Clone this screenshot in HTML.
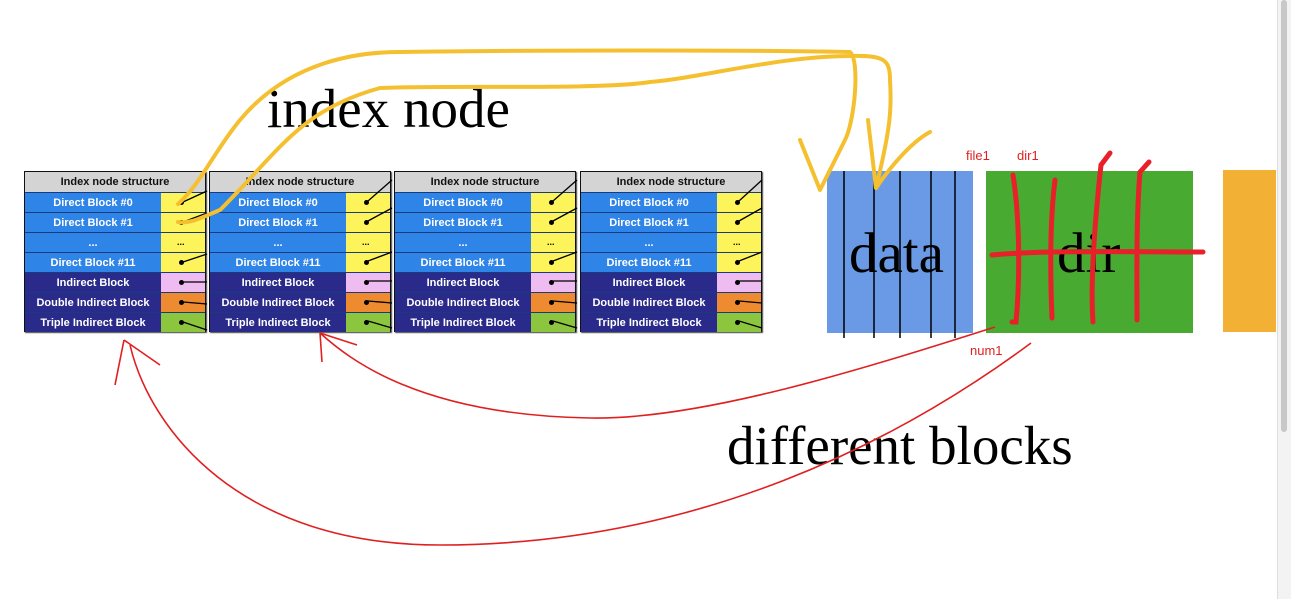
<!DOCTYPE html>
<html><head><meta charset="utf-8"><style>
body{margin:0;width:1291px;height:599px;background:#fff;position:relative;overflow:hidden;font-family:"Liberation Sans",sans-serif}
.t{position:absolute;top:171px;width:182px;height:161px;border:1px solid #111;box-sizing:border-box;box-shadow:1px 1px 1px #444}
.r{position:absolute;left:0;width:100%;height:20px;display:flex;font-weight:bold;font-size:11px;color:#fff;border-top:1px solid #1a3a80;box-sizing:border-box}
.r .a{width:136px;display:flex;align-items:center;justify-content:center}
.r .b{flex:1;position:relative}
.r .b i{position:absolute;left:18px;top:7px;width:5px;height:5px;border-radius:50%;background:#000}
.h{position:absolute;left:0;top:0;width:100%;height:20px;background:#d4d4d4;color:#111;font-weight:bold;font-size:11px;display:flex;align-items:center;justify-content:center}
.serif{position:absolute;font-family:"Liberation Serif",serif;color:#000;white-space:nowrap}
.red{position:absolute;color:#e02020;font-size:13px}
</style></head><body>
<div id="tables"></div>
<script>
var xs=[24,209,394,580],html='';
var rows=[['Direct Block #0','#2f84e8','#fcf45a',1],['Direct Block #1','#2f84e8','#fcf45a',1],['...','#2f84e8','#fcf45a',0],['Direct Block #11','#2f84e8','#fcf45a',1],['Indirect Block','#2a2a8a','#eebcf0',1],['Double Indirect Block','#2a2a8a','#ee8a30',1],['Triple Indirect Block','#2a2a8a','#8cc63e',1]];
xs.forEach(function(x){html+='<div class="t" style="left:'+x+'px"><div class="h">Index node structure</div>';
rows.forEach(function(r,i){html+='<div class="r" style="top:'+(20+i*20)+'px;background:'+r[1]+'"><div class="a">'+r[0]+'</div><div class="b" style="background:'+r[2]+'">'+(r[3]?'<i></i>':'<span style="color:#000;font-size:9px;position:absolute;left:16px;top:4px">...</span>')+'</div></div>';});
html+='</div>';});
document.getElementById('tables').innerHTML=html;
</script>
<div style="position:absolute;left:827px;top:171px;width:146px;height:162px;background:#6a9ae6"></div>
<div style="position:absolute;left:986px;top:171px;width:207px;height:162px;background:#48aa30"></div>
<div style="position:absolute;left:1223px;top:170px;width:53px;height:162px;background:#f2b035"></div>
<div style="position:absolute;left:1277px;top:0;width:14px;height:599px;background:#f3f3f3;border-left:1px solid #ddd"></div>
<div style="position:absolute;left:1281px;top:0;width:6px;height:432px;background:#c8c8c8;border-radius:3px"></div>
<div class="serif" style="left:849px;top:221px;font-size:57px">data</div>
<div class="serif" style="left:1057px;top:221px;font-size:57px">dir</div>
<div class="serif" style="left:267px;top:77px;font-size:55px">index node</div>
<div class="serif" style="left:727px;top:414px;font-size:55px">different blocks</div>
<div class="red" style="left:966px;top:148px">file1</div>
<div class="red" style="left:1017px;top:148px">dir1</div>
<div class="red" style="left:970px;top:343px">num1</div>
<svg width="1291" height="599" style="position:absolute;left:0;top:0" fill="none">
<g stroke="#000" stroke-width="1.5">
<line x1="844" y1="171" x2="844" y2="338"/><line x1="874" y1="171" x2="874" y2="338"/><line x1="900" y1="171" x2="900" y2="338"/><line x1="931" y1="171" x2="931" y2="338"/><line x1="955" y1="171" x2="955" y2="338"/>
</g>
<g stroke="#000" stroke-width="1.3">
<line x1="183" y1="202" x2="207" y2="191"/><line x1="183" y1="222" x2="207" y2="213"/><line x1="183" y1="262" x2="207" y2="254"/><line x1="183" y1="282" x2="207" y2="282"/><line x1="183" y1="302" x2="207" y2="304"/><line x1="183" y1="322" x2="207" y2="330"/>
<line x1="368" y1="201" x2="392" y2="180"/><line x1="368" y1="221" x2="392" y2="208"/><line x1="368" y1="261" x2="392" y2="252"/><line x1="368" y1="281" x2="392" y2="281"/><line x1="368" y1="301" x2="392" y2="303"/><line x1="368" y1="321" x2="392" y2="328"/>
<line x1="553" y1="201" x2="577" y2="180"/><line x1="553" y1="221" x2="577" y2="208"/><line x1="553" y1="261" x2="577" y2="252"/><line x1="553" y1="281" x2="577" y2="281"/><line x1="553" y1="301" x2="577" y2="303"/><line x1="553" y1="321" x2="577" y2="328"/>
<line x1="739" y1="201" x2="762" y2="180"/><line x1="739" y1="221" x2="762" y2="208"/><line x1="739" y1="261" x2="762" y2="252"/><line x1="739" y1="281" x2="762" y2="281"/><line x1="739" y1="301" x2="762" y2="303"/><line x1="739" y1="321" x2="762" y2="328"/>
</g>
<g stroke="#f5c030" stroke-width="4" stroke-linecap="round" stroke-linejoin="round">
<path d="M178,204 C200,185 215,150 240,120 C290,60 360,52 400,52 C550,50 750,50 850,52 C860,60 855,120 845,140 L820,190 L800,140"/>
<path d="M178,222 C190,224 200,218 220,210 C280,150 300,110 380,88 C450,85 600,90 650,82 C700,78 780,56 850,56 C885,55 890,60 890,80 C892,110 890,130 876,188 L868,120 M876,188 C895,160 915,140 930,132"/>
</g>
<g stroke="#e02020" stroke-width="1.6">
<path d="M995,327 C860,370 700,420 590,418 C420,415 350,360 320,333 M320,333 L322,362 M320,333 L357,345"/>
<path d="M1031,343 C900,440 700,545 440,545 C240,545 150,430 130,345 M124,340 L115,385 M124,340 L160,365"/>
</g>
<g stroke="#e8202a" stroke-width="5" stroke-linecap="round">
<path d="M992,255 C1040,250 1150,252 1203,252"/>
<path d="M1013,175 C1020,220 1020,280 1016,322 L1012,322"/>
<path d="M1055,180 C1050,220 1050,270 1052,318"/>
<path d="M1110,153 L1101,165 C1095,220 1090,280 1093,322"/>
<path d="M1149,162 L1140,172 C1136,220 1137,280 1137,320"/>
</g>
</svg>
</body></html>
